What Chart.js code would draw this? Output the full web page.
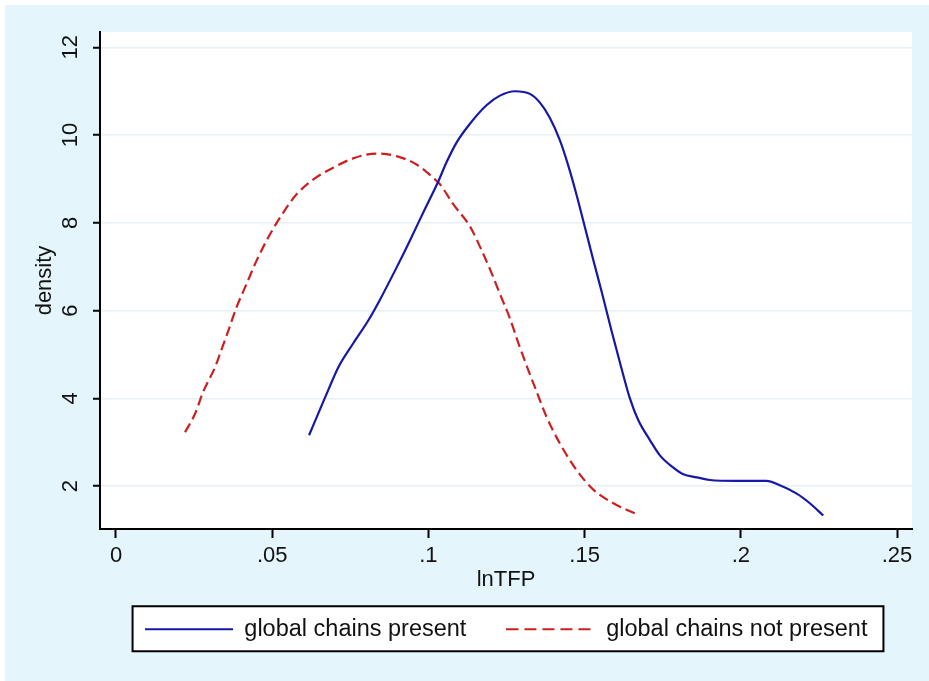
<!DOCTYPE html>
<html>
<head>
<meta charset="utf-8">
<script src="https://cdn.jsdelivr.net/npm/chart.js@4/dist/chart.umd.min.js"></script>
<style>
  html, body { margin: 0; padding: 0; background: #ffffff; }
  #wrap { position: absolute; left: 5px; top: 5px; width: 924px; height: 676px; }
</style>
</head>
<body>
<div id="wrap"><canvas id="c" width="924" height="676"></canvas></div>
<script>
// ---- data (kernel density curves) ----
const presentX = [0.0618,0.0653,0.0680,0.0711,0.0759,0.0808,0.0845,0.0898,0.0941,0.0973,0.1005,0.1032,0.1058,0.1090,0.1133,0.1186,0.1229,0.1277,0.1325,0.1357,0.1389,0.1421,0.1448,0.1475,0.1501,0.1528,0.1555,0.1587,0.1619,0.1645,0.1672,0.1709,0.1741,0.1784,0.1816,0.1859,0.1901,0.1986,0.2082,0.2125,0.2179,0.2221,0.2264];
const presentY = [3.16,3.75,4.20,4.70,5.25,5.78,6.25,6.98,7.60,8.08,8.55,8.95,9.38,9.83,10.26,10.68,10.90,11.00,10.94,10.74,10.39,9.88,9.30,8.62,7.90,7.15,6.42,5.52,4.66,4.00,3.50,3.05,2.70,2.42,2.27,2.20,2.14,2.12,2.12,2.02,1.83,1.61,1.33];

const notPresentX = [0.0221,0.0253,0.0279,0.0317,0.0333,0.0360,0.0386,0.0418,0.0450,0.0493,0.0536,0.0578,0.0632,0.0696,0.0759,0.0834,0.0898,0.0962,0.1015,0.1037,0.1080,0.1133,0.1170,0.1202,0.1229,0.1261,0.1288,0.1320,0.1346,0.1378,0.1421,0.1475,0.1528,0.1592,0.1661];
const notPresentY = [3.23,3.65,4.15,4.71,5.02,5.55,6.08,6.61,7.14,7.74,8.24,8.65,8.99,9.26,9.47,9.58,9.52,9.33,9.03,8.88,8.42,7.92,7.38,6.86,6.38,5.82,5.26,4.64,4.16,3.58,2.97,2.36,1.92,1.61,1.38];

const seriesNames = ['global chains present', 'global chains not present'];
const xTickValues = [0, 0.05, 0.1, 0.15, 0.2, 0.25];
const xTickLabels = ['0', '.05', '.1', '.15', '.2', '.25'];
const yTickValues = [2, 4, 6, 8, 10, 12];
const yTickLabels = ['2', '4', '6', '8', '10', '12'];
const xTitle = 'lnTFP';
const yTitle = 'density';

// ---- chart ----
const FONT = "'Liberation Sans', Arial, sans-serif";
const BLUE = '#1717a8';
const RED = '#cc1f1f';
const toPts = (xs, ys) => xs.map((x, i) => ({x: x, y: ys[i]}));

// legend sample line images (solid / dashed)
function sampleLine(color, dash) {
  const cv = document.createElement('canvas');
  cv.width = 88; cv.height = 4;
  const c = cv.getContext('2d');
  c.strokeStyle = color;
  c.lineWidth = 2.2;
  c.setLineDash(dash);
  c.beginPath();
  c.moveTo(0, 2); c.lineTo(88, 2);
  c.stroke();
  return cv;
}

const bgPlugin = {
  id: 'bgPlugin',
  beforeDraw(chart) {
    const ctx = chart.ctx, a = chart.chartArea;
    ctx.save();
    ctx.fillStyle = '#e4f5fb';
    ctx.fillRect(0, 0, chart.width, chart.height);
    ctx.fillStyle = '#ffffff';
    ctx.fillRect(a.left, a.top, a.right - a.left, a.bottom - a.top);
    const hb = chart.legend && chart.legend.legendHitBoxes;
    if (hb && hb.length) {
      let l = Infinity, r = -Infinity;
      hb.forEach(b => { l = Math.min(l, b.left); r = Math.max(r, b.left + b.width); });
      const cy = hb[0].top + hb[0].height / 2;
      const bx = l - 12, by = cy - 23, bw = (r + 16) - bx, bh = 45;
      ctx.fillStyle = '#ffffff';
      ctx.fillRect(bx, by, bw, bh);
      ctx.strokeStyle = '#000000';
      ctx.lineWidth = 2;
      ctx.strokeRect(bx, by, bw, bh);
    }
    ctx.restore();
  }
};

new Chart(document.getElementById('c'), {
  type: 'line',
  data: {
    datasets: [
      {
        label: seriesNames[0],
        data: toPts(presentX, presentY),
        borderColor: BLUE,
        backgroundColor: BLUE,
        borderWidth: 2.2,
        pointRadius: 0,
        pointStyle: sampleLine(BLUE, []),
        cubicInterpolationMode: 'monotone',
        fill: false
      },
      {
        label: seriesNames[1],
        data: toPts(notPresentX, notPresentY),
        borderColor: RED,
        backgroundColor: RED,
        borderWidth: 2.2,
        borderDash: [10, 5],
        pointRadius: 0,
        pointStyle: sampleLine(RED, [12, 6]),
        cubicInterpolationMode: 'monotone',
        fill: false
      }
    ]
  },
  options: {
    responsive: false,
    devicePixelRatio: 1,
    animation: false,
    layout: { padding: { left: 0, right: 17, top: 27, bottom: 30 } },
    plugins: {
      tooltip: { enabled: false },
      legend: {
        position: 'bottom',
        fullSize: false,
        labels: {
          usePointStyle: true,
          pointStyleWidth: 88,
          padding: 40,
          color: '#111111',
          font: { family: FONT, size: 23.5 }
        }
      }
    },
    scales: {
      x: {
        type: 'linear',
        min: -0.00512,
        max: 0.2548,
        afterBuildTicks: s => { s.ticks = xTickValues.map(v => ({value: v})); },
        afterFit: s => { s.height = 48.5; },
        border: { display: true, color: '#000000', width: 2 },
        grid: { drawOnChartArea: false, drawTicks: true, tickLength: 9, tickColor: '#000000', tickWidth: 2 },
        ticks: {
          padding: 5,
          color: '#111111',
          font: { family: FONT, size: 22 },
          maxRotation: 0,
          autoSkip: false,
          callback: (v, i) => xTickLabels[i]
        },
        title: {
          display: true,
          text: xTitle,
          color: '#111111',
          font: { family: FONT, size: 22 },
          padding: { top: 0, bottom: -16 }
        }
      },
      y: {
        type: 'linear',
        min: 1.023,
        max: 12.35,
        afterBuildTicks: s => { s.ticks = yTickValues.map(v => ({value: v})); },
        afterFit: s => { s.width = 95; },
        border: { display: true, color: '#000000', width: 2 },
        grid: { drawOnChartArea: true, color: '#e6f1f5', lineWidth: 1.5, drawTicks: true, tickLength: 7, tickColor: '#000000', tickWidth: 2 },
        ticks: {
          padding: 10,
          minRotation: 90,
          maxRotation: 90,
          crossAlign: 'center',
          color: '#111111',
          font: { family: FONT, size: 22 },
          autoSkip: false,
          callback: (v, i) => yTickLabels[i]
        },
        title: {
          display: true,
          text: yTitle,
          color: '#111111',
          font: { family: FONT, size: 22 },
          padding: { top: 27, bottom: 0 }
        }
      }
    }
  },
  plugins: [bgPlugin]
});
</script>
</body>
</html>
